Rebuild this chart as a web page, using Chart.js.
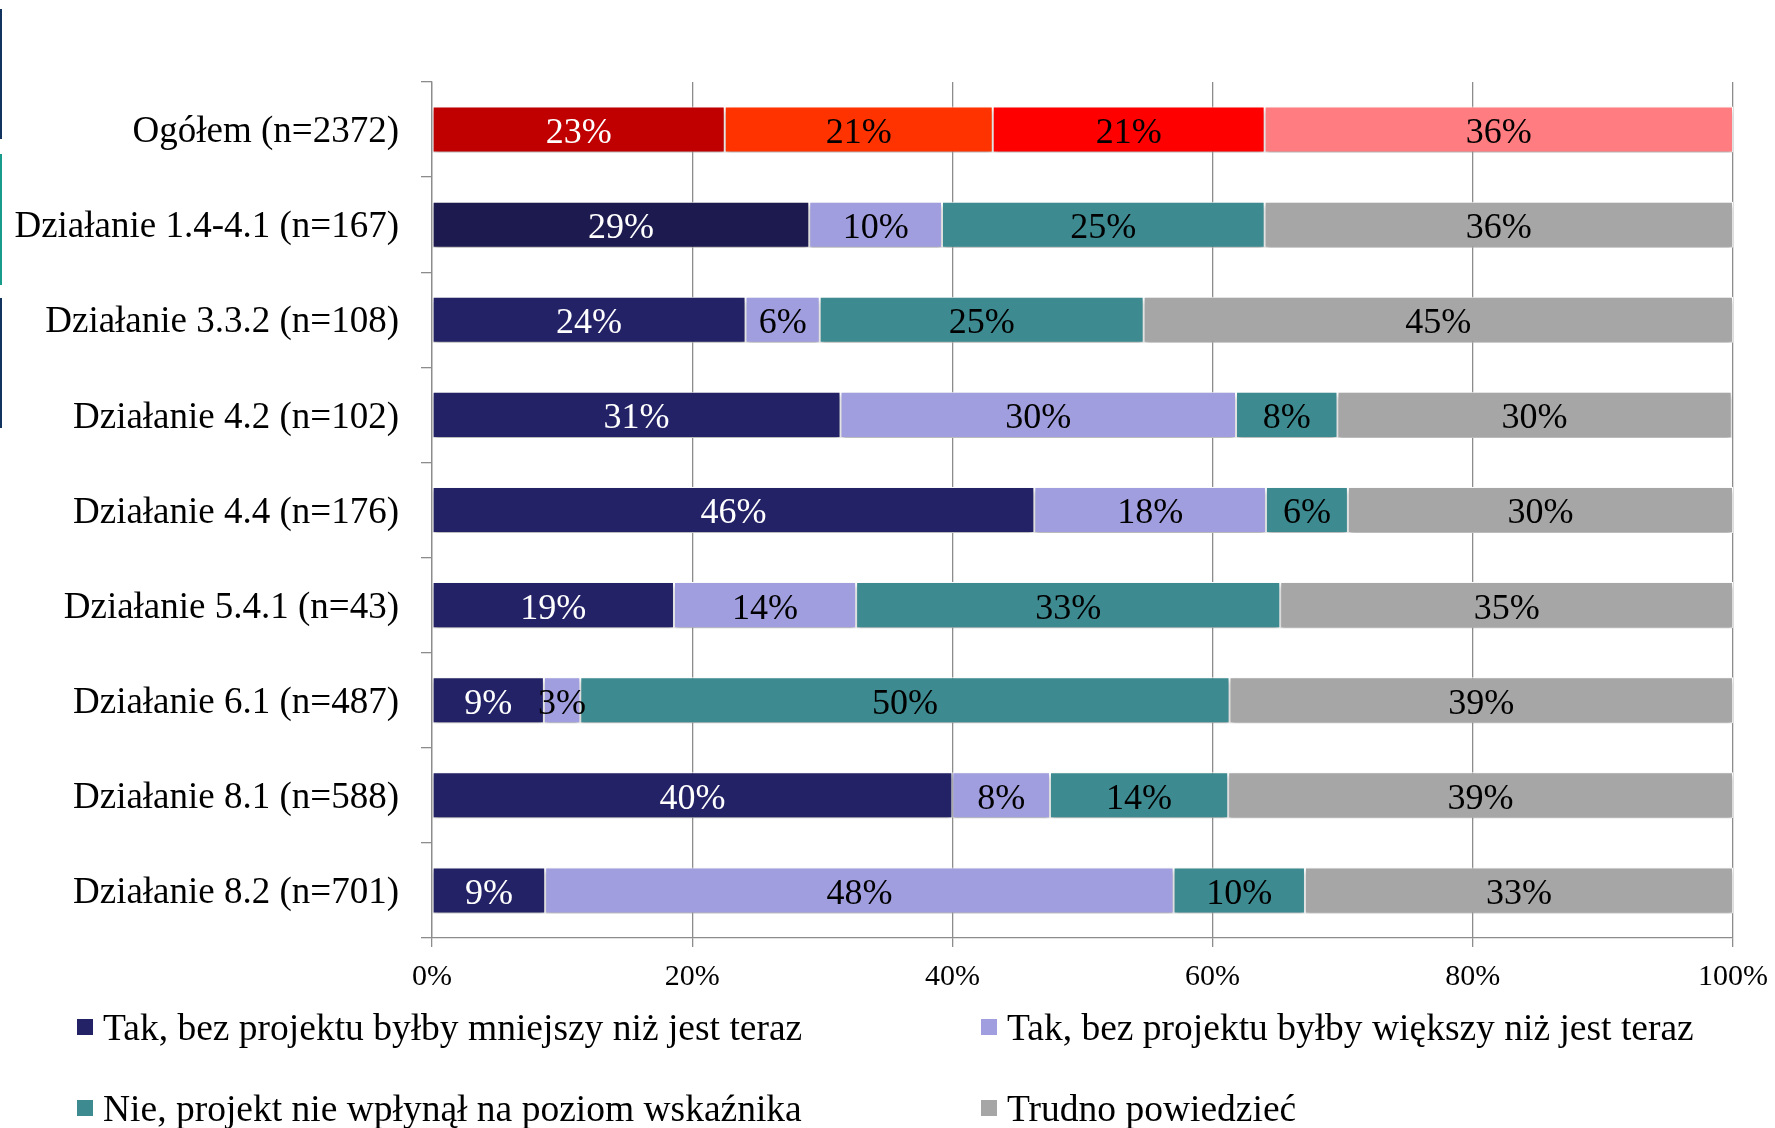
<!DOCTYPE html>
<html>
<head>
<meta charset="utf-8">
<script src="https://cdn.jsdelivr.net/npm/chart.js@4/dist/chart.umd.min.js"></script>
<style>
  html, body { margin: 0; padding: 0; background: #ffffff; }
  #wrap { position: relative; width: 1775px; height: 1128px; overflow: hidden; }
  #c { position: absolute; left: 0; top: 0; }
  .deco { position: absolute; left: 0; width: 2px; }
  #legend { position: absolute; left: 0; top: 0; width: 1775px; height: 1128px; pointer-events: none;
            font-family: "Liberation Serif", "Times New Roman", serif; font-size: 37.5px; color: #000; }
  .li { position: absolute; display: flex; align-items: center; height: 44px; white-space: nowrap; }
  .sw { width: 16px; height: 16px; margin-right: 10px; flex: none; }
</style>
</head>
<body>
<div id="wrap">
  <div class="deco" style="top:9px;height:130px;background:#12335E"></div>
  <div class="deco" style="top:154px;height:131px;background:#179C8C"></div>
  <div class="deco" style="top:298px;height:130px;background:#12335E"></div>
  <canvas id="c" width="1775" height="1128"></canvas>
  <div id="legend"></div>
</div>
<script>
// ---- Data ----
const categories = [
  "Ogółem (n=2372)",
  "Działanie 1.4-4.1 (n=167)",
  "Działanie 3.3.2 (n=108)",
  "Działanie 4.2 (n=102)",
  "Działanie 4.4 (n=176)",
  "Działanie 5.4.1 (n=43)",
  "Działanie 6.1 (n=487)",
  "Działanie 8.1 (n=588)",
  "Działanie 8.2 (n=701)"
];
const seriesNames = [
  "Tak, bez projektu byłby mniejszy niż jest teraz",
  "Tak, bez projektu byłby większy niż jest teraz",
  "Nie, projekt nie wpłynął na poziom wskaźnika",
  "Trudno powiedzieć"
];
const smaller   = [22.5, 29.0, 24.1, 31.4, 46.3, 18.6,  8.6, 40.0,  8.7];
const larger    = [20.6, 10.2,  5.7, 30.4, 17.8, 14.0,  2.8,  7.5, 48.3];
const noEffect  = [20.9, 24.8, 24.9,  7.8,  6.3, 32.6, 49.9, 13.7, 10.1];
const hardToSay = [36.0, 36.0, 45.3, 30.3, 29.6, 34.8, 38.7, 38.8, 32.9];
const xTicks = [0, 20, 40, 60, 80, 100];

// ---- Styles ----
const FONT = '"Liberation Serif", "Times New Roman", serif';
const legendColors = ['#232266', '#A09EDE', '#3D8B91', '#A6A6A6'];
const totalColors  = ['#C00000', '#FF3300', '#FF0000', '#FF7C80'];
function colorsFor(i) {
  return categories.map((c, k) => {
    if (k === 0) return totalColors[i];
    if (k === 1 && i === 0) return '#1C1A4E';
    return legendColors[i];
  });
}
const labelColors = ['#FFFFFF', '#000000', '#000000', '#000000'];
const seriesData = [smaller, larger, noEffect, hardToSay];

const datasets = seriesData.map((d, i) => ({
  label: seriesNames[i],
  data: d,
  backgroundColor: colorsFor(i),
  borderColor: '#FFFFFF',
  borderWidth: 1,
  borderSkipped: false,
  barPercentage: 0.484,
  categoryPercentage: 1.0
}));

const shadowPlugin = {
  id: 'shadow',
  beforeDatasetsDraw(chart) {
    const ctx = chart.ctx;
    ctx.save();
    ctx.shadowColor = 'rgba(0,0,0,0.35)';
    ctx.shadowBlur = 5;
    ctx.shadowOffsetX = 0;
    ctx.shadowOffsetY = 3;
  },
  afterDatasetsDraw(chart) {
    chart.ctx.restore();
  }
};

const labelPlugin = {
  id: 'barLabels',
  afterDatasetsDraw(chart) {
    const ctx = chart.ctx;
    ctx.save();
    ctx.font = '36px ' + FONT;
    ctx.textAlign = 'center';
    ctx.textBaseline = 'middle';
    chart.data.datasets.forEach((ds, i) => {
      const meta = chart.getDatasetMeta(i);
      meta.data.forEach((bar, k) => {
        const v = ds.data[k];
        const cx = (bar.x + bar.base) / 2;
        ctx.fillStyle = labelColors[i];
        ctx.fillText(Math.round(v) + '%', cx, bar.y + 4);
      });
    });
    ctx.restore();
  }
};

const GRID = '#8C8C8C';

new Chart(document.getElementById('c'), {
  type: 'bar',
  data: { labels: categories, datasets },
  plugins: [shadowPlugin, labelPlugin],
  options: {
    indexAxis: 'y',
    responsive: false,
    animation: false,
    devicePixelRatio: 1,
    layout: { padding: { left: 0, right: 42, top: 82, bottom: 130 } },
    plugins: { legend: { display: false }, tooltip: { enabled: false } },
    scales: {
      x: {
        stacked: true,
        min: 0, max: 100,
        afterBuildTicks(scale) { scale.ticks = xTicks.map(v => ({ value: v })); },
        afterFit(scale) { scale.height = 60; scale.paddingLeft = 0; scale.paddingRight = 0; },
        grid: { color: GRID, lineWidth: 1.3, drawOnChartArea: true, drawTicks: true, tickLength: 9 },
        border: { display: true, color: GRID, width: 1.3 },
        ticks: {
          padding: 12,
          color: '#000',
          font: { family: FONT, size: 30 },
          callback: v => v + '%'
        }
      },
      y: {
        stacked: true,
        afterFit(scale) { scale.width = 432; scale.paddingTop = 0; scale.paddingBottom = 0; },
        grid: { color: GRID, lineWidth: 1.3, drawOnChartArea: false, drawTicks: true, tickLength: 11, offset: true },
        border: { display: true, color: GRID, width: 1.3 },
        ticks: {
          padding: 22,
          labelOffset: 3,
          color: '#000',
          font: { family: FONT, size: 37 }
        }
      }
    }
  }
});

// ---- HTML legend built from the series ----
const legendEl = document.getElementById('legend');
const legendPos = [[77, 1005], [981, 1005], [77, 1086], [981, 1086]];
const legendOrder = [0, 1, 2, 3];
legendOrder.forEach((si, idx) => {
  const d = document.createElement('div');
  d.className = 'li';
  d.style.left = legendPos[idx][0] + 'px';
  d.style.top = legendPos[idx][1] + 'px';
  const sw = document.createElement('span');
  sw.className = 'sw';
  sw.style.background = legendColors[si];
  const t = document.createElement('span');
  t.textContent = seriesNames[si];
  d.appendChild(sw); d.appendChild(t);
  legendEl.appendChild(d);
});
</script>
</body>
</html>
